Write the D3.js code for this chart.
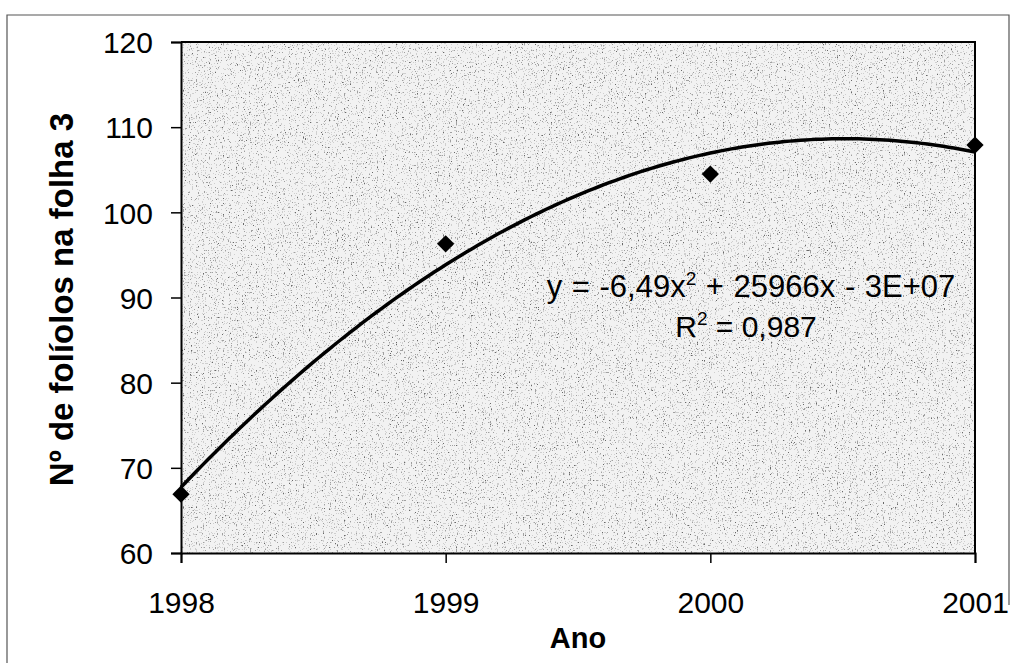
<!DOCTYPE html>
<html>
<head>
<meta charset="utf-8">
<script src="https://cdn.jsdelivr.net/npm/d3@7"></script>
<style>
  body { margin: 0; background: #fff; }
  text { font-family: "Liberation Sans", Arial, sans-serif; fill: #000; }
</style>
</head>
<body>
<div id="chart"></div>
<script>
// data
const years = [1998, 1999, 2000, 2001];
const folhas = [66.9, 96.3, 104.5, 107.9];
const yTicks = [60, 70, 80, 90, 100, 110, 120];
const equationText = "y = -6,49x";
const equationRest = " + 25966x - 3E+07";
const r2Text = "0,987";

const totalWidth = 1022, totalHeight = 663;
const margin = { top: 42, right: 47, bottom: 110, left: 181 };
const width = totalWidth - margin.left - margin.right;
const height = totalHeight - margin.top - margin.bottom;

const svg = d3.select("#chart").append("svg")
  .attr("width", totalWidth)
  .attr("height", totalHeight);

// speckled gray fill like the scanned excel plot area
const defs = svg.append("defs");
const filt = defs.append("filter").attr("id", "speckle")
  .attr("x", 0).attr("y", 0).attr("width", 1).attr("height", 1);
filt.append("feTurbulence")
  .attr("type", "fractalNoise")
  .attr("baseFrequency", "0.85 0.6")
  .attr("numOctaves", 2)
  .attr("seed", 4)
  .attr("result", "noise");
filt.append("feColorMatrix")
  .attr("in", "noise")
  .attr("type", "matrix")
  .attr("values", "0 0 0 0 0  0 0 0 0 0  0 0 0 0 0  -3.2 0 0 0 1.45")
  .attr("result", "dots");
filt.append("feComponentTransfer").attr("in", "dots").attr("result", "dots2")
  .append("feFuncA").attr("type", "discrete").attr("tableValues", "0 0.3 0.6 0.85");
filt.append("feFlood").attr("flood-color", "#f2f2f2").attr("result", "bg");
filt.append("feMerge").call(m => {
  m.append("feMergeNode").attr("in", "bg");
  m.append("feMergeNode").attr("in", "dots2");
});

// outer frame
svg.append("path")
  .attr("d", "M7,680 V15 H1009 V605")
  .attr("fill", "none")
  .attr("stroke", "#555")
  .attr("stroke-width", 1.2);

const g = svg.append("g")
  .attr("transform", `translate(${margin.left},${margin.top})`);

const x = d3.scaleLinear().domain([1998, 2001]).range([0, width]);
const y = d3.scaleLinear().domain([60, 120]).range([height, 0]);

g.append("rect")
  .attr("width", width)
  .attr("height", height)
  .attr("fill", "#ddd")
  .attr("filter", "url(#speckle)");

// top and right plot border
g.append("path")
  .attr("d", `M0,0 H${width} V${height}`)
  .attr("fill", "none")
  .attr("stroke", "#000")
  .attr("stroke-width", 2);

// axes
const yAxis = d3.axisLeft(y).tickValues(yTicks).tickSize(10).tickPadding(18).tickFormat(d3.format("d"));
const xAxis = d3.axisBottom(x).tickValues(years).tickSize(10).tickPadding(29).tickFormat(d3.format("d"));

const gy = g.append("g").call(yAxis);
const gx = g.append("g").attr("transform", `translate(0,${height})`).call(xAxis);

[gx, gy].forEach(a => {
  a.select(".domain").attr("stroke", "#000").attr("stroke-width", 2);
  a.selectAll(".tick line").attr("stroke", "#000").attr("stroke-width", 1.5);
  a.selectAll(".tick text")
    .style("font-family", "'Liberation Sans', Arial, sans-serif")
    .style("font-size", "30px")
    .attr("fill", "#000");
});
gy.selectAll(".tick text").attr("dy", "0.36em");
gx.selectAll(".tick text").attr("dy", "0.71em");

// quadratic trendline (least squares, x shifted to 1998)
function quadFit(xs, ys) {
  let s = [0, 0, 0, 0, 0], t = [0, 0, 0];
  xs.forEach((xv, i) => {
    for (let k = 0; k < 5; k++) s[k] += Math.pow(xv, k);
    for (let k = 0; k < 3; k++) t[k] += Math.pow(xv, k) * ys[i];
  });
  const A = [[s[0], s[1], s[2], t[0]], [s[1], s[2], s[3], t[1]], [s[2], s[3], s[4], t[2]]];
  for (let i = 0; i < 3; i++) {
    for (let j = i + 1; j < 3; j++) {
      const f = A[j][i] / A[i][i];
      for (let k = i; k < 4; k++) A[j][k] -= f * A[i][k];
    }
  }
  const c = [0, 0, 0];
  for (let i = 2; i >= 0; i--) {
    let v = A[i][3];
    for (let k = i + 1; k < 3; k++) v -= A[i][k] * c[k];
    c[i] = v / A[i][i];
  }
  return c;
}
const coef = quadFit(years.map(d => d - 1998), folhas);
const curve = d3.range(1998, 2001.0001, 0.02).map(v => {
  const u = v - 1998;
  return [v, coef[0] + coef[1] * u + coef[2] * u * u];
});

g.append("path")
  .datum(curve)
  .attr("fill", "none")
  .attr("stroke", "#000")
  .attr("stroke-width", 3.5)
  .attr("d", d3.line().x(d => x(d[0])).y(d => y(d[1])));

// points
g.selectAll(".dot")
  .data(years)
  .enter().append("path")
  .attr("class", "dot")
  .attr("d", d3.symbol(d3.symbolDiamond2, 190))
  .attr("transform", (d, i) => `translate(${x(d)},${y(folhas[i])})`)
  .attr("fill", "#000");

// equation labels
const eq = g.append("text")
  .attr("x", 570)
  .attr("y", 255)
  .attr("text-anchor", "middle")
  .style("font-size", "31px")
  .style("word-spacing", "1px");
eq.append("tspan").text(equationText);
eq.append("tspan").attr("dy", -12).style("font-size", "19px").text("2");
eq.append("tspan").attr("dy", 12).text(equationRest);

const r2 = g.append("text")
  .attr("x", 565)
  .attr("y", 295)
  .attr("text-anchor", "middle")
  .style("font-size", "30px");
r2.append("tspan").text("R");
r2.append("tspan").attr("dy", -12).style("font-size", "19px").text("2");
r2.append("tspan").attr("dy", 12).text(" = " + r2Text);

// axis titles
svg.append("text")
  .attr("x", margin.left + width / 2)
  .attr("y", 648)
  .attr("text-anchor", "middle")
  .style("font-size", "29px")
  .style("font-weight", "bold")
  .text("Ano");

svg.append("text")
  .attr("transform", `translate(73,${margin.top + height / 2 + 2}) rotate(-90)`)
  .attr("text-anchor", "middle")
  .style("font-size", "33px")
  .style("font-weight", "bold")
  .text("Nº de folíolos na folha 3");
</script>
</body>
</html>
